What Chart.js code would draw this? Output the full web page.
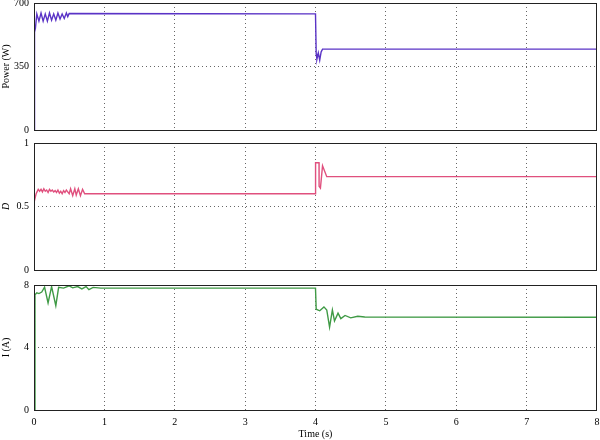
<!DOCTYPE html>
<html>
<head>
<meta charset="utf-8">
<script src="https://cdn.jsdelivr.net/npm/chart.js@4/dist/chart.umd.min.js"></script>
<style>
  html, body { margin: 0; padding: 0; background: #fff; }
  #wrap { position: relative; width: 600px; height: 440px; overflow: hidden; }
  canvas { position: absolute; left: 0; }
</style>
</head>
<body>
<div id="wrap">
  <canvas id="powerChart" width="600" height="136" style="top:0px"></canvas>
  <canvas id="dutyChart" width="600" height="140" style="top:136px"></canvas>
  <canvas id="currentChart" width="600" height="164" style="top:276px"></canvas>
</div>
<script>
// time axis (s)
const xTicks = [0, 1, 2, 3, 4, 5, 6, 7, 8]

// Power (W)
const powerTime = [0, 0.005, 0.01, 0.02, 0.04, 0.07, 0.10, 0.13, 0.16, 0.19, 0.22, 0.25, 0.28,
  0.31, 0.34, 0.37, 0.40, 0.43, 0.46, 0.48, 0.5,
  4.0, 4.01, 4.02, 4.04, 4.06, 4.08, 4.1, 8]
const powerValues = [0, 300, 540, 560, 640, 600, 645, 600, 640, 600, 645, 605, 640,
  605, 645, 612, 640, 615, 645, 625, 642,
  640, 420, 390, 425, 385, 430, 446, 446]

// Duty cycle D
const dutyTime = [0, 0.03, 0.06, 0.08, 0.10, 0.12, 0.14, 0.16, 0.18, 0.20, 0.22, 0.24, 0.26, 0.28,
  0.30, 0.32, 0.34, 0.36, 0.38, 0.40, 0.42, 0.44, 0.46, 0.50, 0.52, 0.55, 0.58, 0.60,
  0.63, 0.66, 0.69, 0.72, 4.0, 4.001, 4.05, 4.051, 4.07, 4.1, 4.16, 8]
const dutyValues = [0.53, 0.6, 0.635, 0.62, 0.635, 0.615, 0.64, 0.62, 0.63, 0.61, 0.635, 0.62, 0.63, 0.615,
  0.625, 0.61, 0.63, 0.605, 0.62, 0.6, 0.625, 0.61, 0.63, 0.6, 0.64, 0.585, 0.64, 0.59,
  0.64, 0.585, 0.635, 0.6, 0.6, 0.845, 0.845, 0.66, 0.645, 0.82, 0.735, 0.735]

// Current I (A)
const currentTime = [0, 0.014, 0.04, 0.07, 0.11, 0.15, 0.2, 0.25, 0.31, 0.35, 0.42, 0.5, 0.55,
  0.62, 0.68, 0.74, 0.78, 0.84, 0.95, 4.0, 4.01, 4.06, 4.12, 4.16, 4.2, 4.24, 4.27, 4.32,
  4.36, 4.42, 4.5, 4.6, 4.7, 8]
const currentValues = [0, 7.37, 7.5, 7.45, 7.55, 7.86, 6.85, 7.9, 6.68, 7.85, 7.8, 7.95, 7.82,
  7.9, 7.75, 7.9, 7.7, 7.85, 7.8, 7.8, 6.45, 6.35, 6.6, 6.4, 5.3, 6.4, 5.7, 6.2,
  5.85, 6.05, 5.9, 6.0, 5.95, 5.94]

const fontFamily = "'Liberation Serif', 'DejaVu Serif', serif"
const gridColor = '#666'

function toPoints(xs, ys) {
  return xs.map((x, i) => ({ x: x, y: ys[i] }))
}

// draws a frame round the plot area
const framePlugin = {
  id: 'frame',
  afterDraw(chart) {
    const a = chart.chartArea
    const c = chart.ctx
    c.save()
    c.strokeStyle = '#222'
    c.lineWidth = 1
    c.strokeRect(a.left + 0.5, a.top + 0.5, a.right - a.left - 1, a.bottom - a.top)
    c.restore()
  }
}

function innerOnly(ctx) {
  const n = ctx.scale.ticks.length
  return (ctx.index === 0 || ctx.index === n - 1) ? 'rgba(0,0,0,0)' : gridColor
}

function makeChart(id, xs, ys, color, yMax, yStep, yTitle, titleItalic, showX, pad) {
  return new Chart(document.getElementById(id), {
    type: 'line',
    data: {
      datasets: [{
        data: toPoints(xs, ys),
        borderColor: color,
        borderWidth: 1.4,
        pointRadius: 0,
        fill: false,
        tension: 0
      }]
    },
    options: {
      responsive: false,
      animation: false,
      layout: { padding: pad },
      plugins: { legend: { display: false }, tooltip: { enabled: false } },
      scales: {
        x: {
          type: 'linear',
          min: 0,
          max: 8,
          afterBuildTicks: (scale) => { scale.ticks = xTicks.map(v => ({ value: v })) },
          ticks: {
            display: showX,
            padding: 6,
            color: '#000',
            font: { family: fontFamily, size: 10 },
            maxRotation: 0
          },
          grid: { color: innerOnly, drawTicks: false, lineWidth: 1 },
          border: { display: false, dash: [1, 3] },
          title: {
            display: showX,
            text: 'Time (s)',
            color: '#000',
            padding: 0,
            font: { family: fontFamily, size: 10 }
          },
          afterFit: (scale) => {
            scale.height = showX ? 30 : 0
            scale.paddingLeft = 0
            scale.paddingRight = 0
          }
        },
        y: {
          min: 0,
          max: yMax,
          ticks: {
            stepSize: yStep,
            padding: 5,
            color: '#000',
            font: { family: fontFamily, size: 10 },
            callback: (v) => String(v)
          },
          grid: { color: innerOnly, drawTicks: false, lineWidth: 1 },
          border: { display: false, dash: [1, 3] },
          title: {
            display: true,
            text: yTitle,
            color: '#000',
            padding: 0,
            font: { family: fontFamily, size: 10, style: titleItalic ? 'italic' : 'normal' }
          },
          afterFit: (scale) => {
            scale.width = 34
            scale.paddingTop = 0
            scale.paddingBottom = 0
          }
        }
      }
    },
    plugins: [framePlugin]
  })
}

makeChart('powerChart', powerTime, powerValues, '#5a33c6', 700, 350, 'Power (W)', false, false,
  { top: 3, bottom: 6, left: 0, right: 3 })
makeChart('dutyChart', dutyTime, dutyValues, '#e0507e', 1, 0.5, 'D', true, false,
  { top: 7, bottom: 6, left: 0, right: 3 })
makeChart('currentChart', currentTime, currentValues, '#3f9a45', 8, 4, 'I (A)', false, true,
  { top: 9, bottom: 0, left: 0, right: 3 })
</script>
</body>
</html>
